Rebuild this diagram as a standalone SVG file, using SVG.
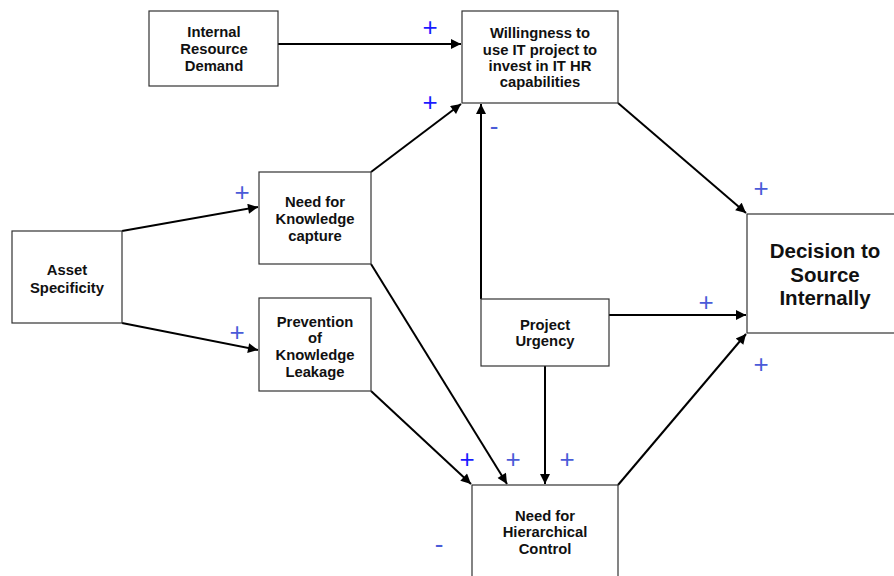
<svg xmlns="http://www.w3.org/2000/svg" width="894" height="576" viewBox="0 0 894 576">
  <style>
    .box { fill: #ffffff; stroke: #333333; stroke-width: 1.2; }
    .lbl { font-family: "Liberation Sans", Arial, sans-serif; font-weight: bold; font-size: 14.8px; fill: #111111; text-anchor: middle; }
    .big { font-size: 20.5px; }
    .edge { stroke: #000000; stroke-width: 2; fill: none; marker-end: url(#arrow); }
    .sign { font-family: "Liberation Sans", Arial, sans-serif; font-size: 26px; text-anchor: middle; }
    .s1 { fill: #1a1aff; }
    .s2 { fill: #4a5bd8; }
  </style>
  <defs>
    <marker id="arrow" viewBox="0 0 10 10" refX="10" refY="5" markerWidth="6" markerHeight="5" orient="auto" markerUnits="strokeWidth">
      <path d="M0,0 L10,5 L0,10 Z" fill="#000000"/>
    </marker>
  </defs>
  <rect width="894" height="576" fill="#ffffff"/>

  <g id="connectors">
    <line class="edge" x1="278" y1="44" x2="461" y2="44"/>
    <line class="edge" x1="122" y1="231" x2="258" y2="207"/>
    <line class="edge" x1="122" y1="323" x2="258" y2="350"/>
    <line class="edge" x1="371" y1="172" x2="461" y2="104"/>
    <line class="edge" x1="371" y1="264" x2="507" y2="484"/>
    <line class="edge" x1="371" y1="391" x2="471" y2="484"/>
    <polyline class="edge" points="481,299 481,104"/>
    <line class="edge" x1="609" y1="315" x2="746" y2="315"/>
    <line class="edge" x1="545" y1="366" x2="545" y2="484"/>
    <line class="edge" x1="618" y1="485" x2="746" y2="334"/>
    <line class="edge" x1="618" y1="103" x2="746" y2="213"/>
  </g>

  <g id="internal-resource-demand">
    <rect class="box" x="149" y="11" width="129" height="75"/>
    <text class="lbl" x="214" y="37">Internal</text>
    <text class="lbl" x="214" y="54">Resource</text>
    <text class="lbl" x="214" y="71">Demand</text>
  </g>

  <g id="willingness">
    <rect class="box" x="462" y="11" width="156" height="92"/>
    <text class="lbl" x="540" y="38">Willingness to</text>
    <text class="lbl" x="540" y="55">use IT project to</text>
    <text class="lbl" x="540" y="71">invest in IT HR</text>
    <text class="lbl" x="540" y="87">capabilities</text>
  </g>

  <g id="asset-specificity">
    <rect class="box" x="12" y="231" width="110" height="92"/>
    <text class="lbl" x="67" y="275">Asset</text>
    <text class="lbl" x="67" y="293">Specificity</text>
  </g>

  <g id="knowledge-capture">
    <rect class="box" x="259" y="172" width="112" height="92"/>
    <text class="lbl" x="315" y="207">Need for</text>
    <text class="lbl" x="315" y="224">Knowledge</text>
    <text class="lbl" x="315" y="241">capture</text>
  </g>

  <g id="knowledge-leakage">
    <rect class="box" x="259" y="298" width="112" height="93"/>
    <text class="lbl" x="315" y="327">Prevention</text>
    <text class="lbl" x="315" y="343">of</text>
    <text class="lbl" x="315" y="360">Knowledge</text>
    <text class="lbl" x="315" y="377">Leakage</text>
  </g>

  <g id="project-urgency">
    <rect class="box" x="481" y="299" width="128" height="67"/>
    <text class="lbl" x="545" y="330">Project</text>
    <text class="lbl" x="545" y="346">Urgency</text>
  </g>

  <g id="decision">
    <rect class="box" x="747" y="214" width="160" height="119"/>
    <text class="lbl big" x="825" y="258">Decision to</text>
    <text class="lbl big" x="825" y="282">Source</text>
    <text class="lbl big" x="825" y="305">Internally</text>
  </g>

  <g id="hierarchical-control">
    <rect class="box" x="472" y="485" width="146" height="100"/>
    <text class="lbl" x="545" y="521">Need for</text>
    <text class="lbl" x="545" y="537">Hierarchical</text>
    <text class="lbl" x="545" y="554">Control</text>
  </g>

  <g id="signs">
    <text class="sign s1" x="430" y="36">+</text>
    <text class="sign s1" x="430" y="111">+</text>
    <text class="sign s2" x="494" y="135">-</text>
    <text class="sign s2" x="242" y="201">+</text>
    <text class="sign s2" x="237" y="341">+</text>
    <text class="sign s2" x="761" y="197">+</text>
    <text class="sign s2" x="706" y="311">+</text>
    <text class="sign s2" x="761" y="373">+</text>
    <text class="sign s1" x="467" y="468">+</text>
    <text class="sign s2" x="513" y="468">+</text>
    <text class="sign s2" x="567" y="468">+</text>
    <text class="sign s2" x="439" y="553">-</text>
  </g>
</svg>
